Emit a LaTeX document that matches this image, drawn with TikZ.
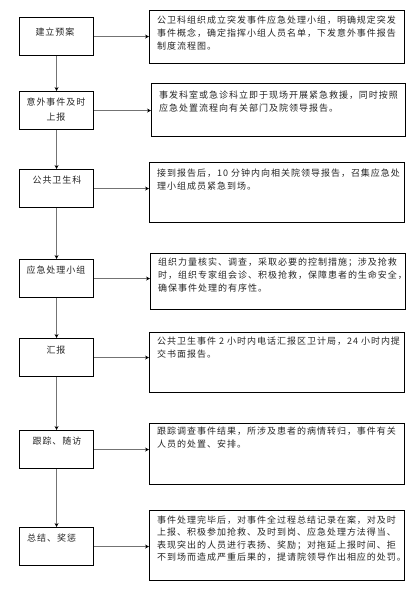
\documentclass[tikz,border=0pt]{standalone}
\usepackage{fontspec}
\newfontfamily\cjk[LetterSpace=11]{Noto Sans CJK SC}
\usetikzlibrary{arrows.meta}
\begin{document}
\begin{tikzpicture}[x=1pt,y=-1pt,
  lbox/.style={draw=black,line width=1.1pt,anchor=north west,inner sep=0pt,minimum width=74pt,minimum height=38pt},
  rbox/.style={draw=black,line width=1.1pt,anchor=north west,inner sep=0pt,minimum width=255pt},
  rtxt/.style={font=\cjk\fontsize{9}{13}\selectfont,text=black!85,align=left,inner sep=0pt,anchor=base west},
  ltxt/.style={font=\cjk\fontsize{9}{15}\selectfont,text=black!85,align=center,inner sep=0pt},
  conn/.style={draw=black!55,line width=1.5pt,-{Stealth[length=4pt,width=4pt,color=black]}}]
\useasboundingbox (0,0) rectangle (415,594);
\fill[white] (0,0) rectangle (415,594);

% left boxes
\node[lbox] (L1) at (19,17) {};
\node[lbox] (L2) at (19,91) {};
\node[lbox] (L3) at (19,169) {};
\node[lbox] (L4) at (19,259) {};
\node[lbox] (L5) at (19,338) {};
\node[lbox] (L6) at (19,430) {};
\node[lbox] (L7) at (19,527) {};

\node[ltxt] (T1) at (55,32) {建立预案};
\node[ltxt] (T2) at (56,109.5) {意外事件及时\\上报};
\node[ltxt] (T3) at (57,180) {公共卫生科};
\node[ltxt] (T4) at (56,270) {应急处理小组};
\node[ltxt] (T5) at (56,350) {汇报};
\node[ltxt] (T6) at (57,441) {跟踪、随访};
\node[ltxt,anchor=west] (T7) at (27,538) {总结、奖惩};

% right boxes
\node[rbox,minimum height=53pt] (R1) at (149,10) {};
\node[rbox,minimum width=254pt,minimum height=53pt] (R2) at (151,83) {};
\node[rbox,minimum height=60pt] (R3) at (149,162) {};
\node[rbox,minimum height=56pt] (R4) at (150,253) {};
\node[rbox,minimum height=60pt] (R5) at (149,332) {};
\node[rbox,minimum height=61pt] (R6) at (149,423) {};
\node[rbox,minimum height=70pt] (R7) at (149,510) {};

% base anchor = baseline of the last line
\node[rtxt] (D1) at (157,49.5) {公卫科组织成立突发事件应急处理小组，明确规定突发\\事件概念，确定指挥小组人员名单，下发意外事件报告\\制度流程图。};
\node[rtxt] (D2) at (159,111.5) {事发科室或急诊科立即于现场开展紧急救援，同时按照\\应急处置流程向有关部门及院领导报告。};
\node[rtxt] (D3) at (157,189.5) {接到报告后，10 分钟内向相关院领导报告，召集应急处\\理小组成员紧急到场。};
\node[rtxt] (D4) at (158,291.5) {组织力量核实、调查，采取必要的控制措施；涉及抢救\\时，组织专家组会诊、积极抢救，保障患者的生命安全，\\确保事件处理的有序性。};
\node[rtxt] (D5) at (157,357.5) {公共卫生事件 2 小时内电话汇报区卫计局，24 小时内提\\交书面报告。};
\node[rtxt] (D6) at (157,447.5) {跟踪调查事件结果，所涉及患者的病情转归，事件有关\\人员的处置、安排。};
\node[rtxt,font=\cjk\fontsize{9}{12.3}\selectfont] (D7) at (157,560.4) {事件处理完毕后，对事件全过程总结记录在案，对及时\\上报、积极参加抢救、及时到岗、应急处理方法得当、\\表现突出的人员进行表扬、奖励；对拖延上报时间、拒\\不到场而造成严重后果的，提请院领导作出相应的处罚。};

% connectors
\draw[conn] (L1.south) -- (L2.north);
\draw[conn] (L2.south) -- (L3.north);
\draw[conn] (L3.south) -- (L4.north);
\draw[conn] (L4.south) -- (L5.north);
\draw[conn] (L5.south) -- (L6.north);
\draw[conn] (L6.south) -- (L7.north);

\draw[conn] (L1.east) -- (L1.east -| R1.west);
\draw[conn] (L2.east) -- (L2.east -| R2.west);
\draw[conn] (L3.east) -- (L3.east -| R3.west);
\draw[conn] (L4.east) -- (L4.east -| R4.west);
\draw[conn] (L5.east) -- (L5.east -| R5.west);
\draw[conn] (L6.east) -- (L6.east -| R6.west);
\draw[conn] (L7.east) -- (L7.east -| R7.west);
\end{tikzpicture}
\end{document}
